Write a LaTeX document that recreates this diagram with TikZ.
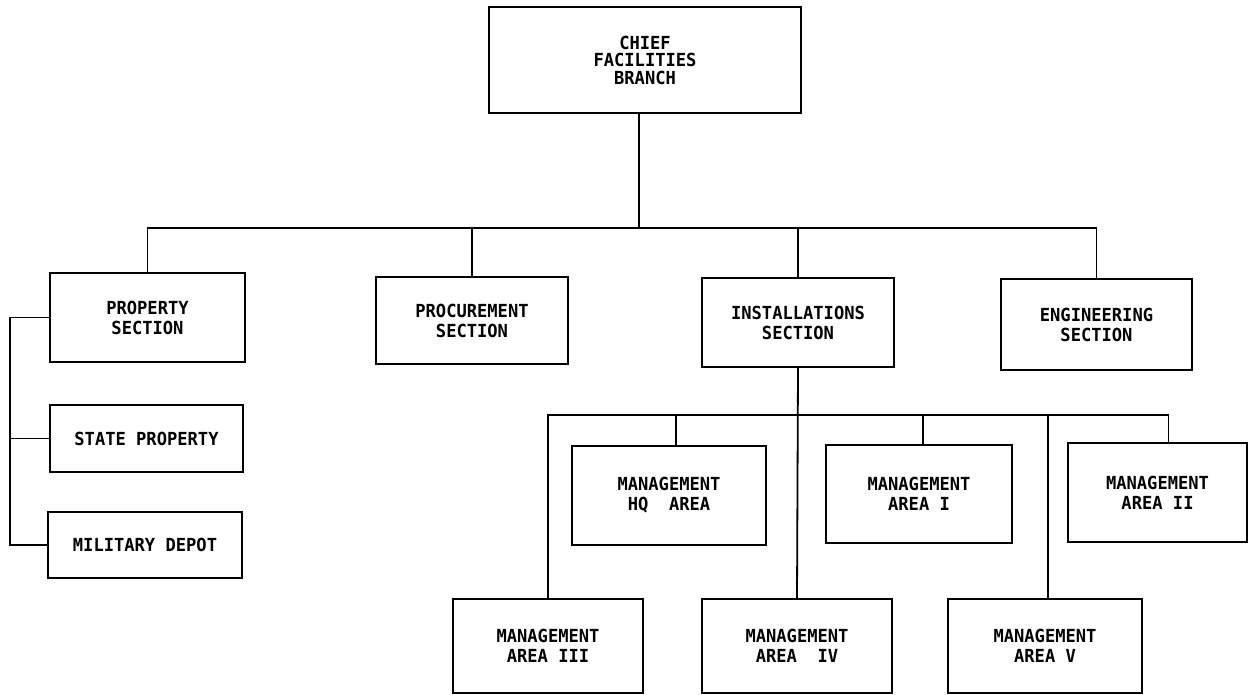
\documentclass[tikz,border=0pt]{standalone}
\usepackage{fontspec}
\setmainfont{DejaVu Sans Mono}[FakeStretch=0.95]

\begin{document}
\begin{tikzpicture}[x=1pt, y=-1pt,
    unit/.style={draw, line width=1.8pt, align=center, inner sep=0pt,
      font=\fontsize{18}{20}\selectfont\bfseries},
    link/.style={line width=1.8pt}]

%      \draw[help lines] (0,0) grid[step=50] (1249,695);
      \useasboundingbox (0,0) rectangle (1249,695);

      % top of the branch
      \node[unit, minimum width=312pt, minimum height=106pt,
        font=\fontsize{18}{17.5}\selectfont\bfseries] (chief) at (645,60) {CHIEF\\FACILITIES\\BRANCH};

      % sections
      \node[unit, minimum width=195pt, minimum height=89pt] (prop) at (147.5,317.5) {PROPERTY\\SECTION};
      \node[unit, minimum width=192pt, minimum height=87pt] (proc) at (472,320.5) {PROCUREMENT\\SECTION};
      \node[unit, minimum width=192pt, minimum height=89pt] (inst) at (798,322.5) {INSTALLATIONS\\SECTION};
      \node[unit, minimum width=191pt, minimum height=91pt] (eng) at (1096.5,324.5) {ENGINEERING\\SECTION};

      % under property
      \node[unit, minimum width=193pt, minimum height=67pt] (state) at (146.5,438.5) {STATE PROPERTY};
      \node[unit, minimum width=194pt, minimum height=66pt] (depot) at (145,545) {MILITARY DEPOT};

      % management areas
      \node[unit, minimum width=194pt, minimum height=99pt] (hq) at (669,495.5) {MANAGEMENT\\HQ\ \ AREA};
      \node[unit, minimum width=186pt, minimum height=98pt] (m1) at (919,494) {MANAGEMENT\\AREA I};
      \node[unit, minimum width=179pt, minimum height=99pt] (m2) at (1157.5,492.5) {MANAGEMENT\\AREA II};
      \node[unit, minimum width=190pt, minimum height=94pt] (m3) at (548,646) {MANAGEMENT\\AREA III};
      \node[unit, minimum width=190pt, minimum height=94pt] (m4) at (797,646) {MANAGEMENT\\AREA\ \ IV};
      \node[unit, minimum width=194pt, minimum height=94pt] (m5) at (1045,646) {MANAGEMENT\\AREA V};

      \coordinate (topbar) at (0,228);
      \coordinate (lowbar) at (0,415);
      \coordinate (rail) at (10,0);

      \draw[link] ([xshift=-6pt]chief.south) -- ([xshift=-6pt]chief.south |- topbar);
      \draw[link] (prop.north) |- (eng.north |- topbar) -- (eng.north);
      \draw[link] (proc.north) -- (proc.north |- topbar);
      \draw[link] (inst.north) -- (inst.north |- topbar);

      \draw[link] (prop.west) -| (rail |- depot.west) -- (depot.west);
      \draw[link] (state.west) -- (state.west -| rail);

      \draw[link] (inst.south) -- (m4.north);
      \draw[link] (m3.north) |- ([xshift=11pt]m2.north |- lowbar) -- ([xshift=11pt]m2.north);
      \draw[link] ([xshift=7pt]hq.north) -- ([xshift=7pt]hq.north |- lowbar);
      \draw[link] ([xshift=4pt]m1.north) -- ([xshift=4pt]m1.north |- lowbar);
      \draw[link] ([xshift=3pt]m5.north) -- ([xshift=3pt]m5.north |- lowbar);
    \end{tikzpicture}
\end{document}
